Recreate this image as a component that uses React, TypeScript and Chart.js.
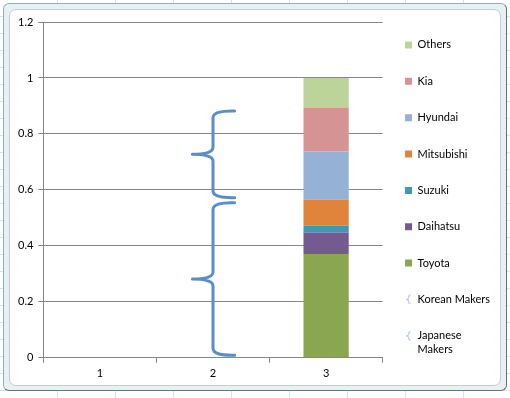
import React, { useEffect, useRef } from "react";
import { Chart, registerables } from "chart.js";
Chart.register(...registerables);

const categories = ["1", "2", "3"];
const seriesNames = ["Japanese Makers", "Korean Makers", "Toyota", "Daihatsu", "Suzuki", "Mitsubishi", "Hyundai", "Kia", "Others"];
const japaneseMakers = [null, 0.565, null];
const koreanMakers = [null, 0.328, null];
const toyota = [null, null, 0.371];
const daihatsu = [null, null, 0.077];
const suzuki = [null, null, 0.024];
const mitsubishi = [null, null, 0.093];
const hyundai = [null, null, 0.172];
const kia = [null, null, 0.156];
const others = [null, null, 0.107];
const yTicks = [0, 0.2, 0.4, 0.6, 0.8, 1, 1.2];

const seriesValues = [japaneseMakers, koreanMakers, toyota, daihatsu, suzuki, mitsubishi, hyundai, kia, others];
const seriesColors = ["rgba(0,0,0,0)", "rgba(0,0,0,0)", "#8BA650", "#735A90", "#3C9AB4", "#E0843C", "#95B1D6", "#D69393", "#BCD399"];
const braceSeries = [true, true, false, false, false, false, false, false, false];
const BRACE_COLOR = "#5B8DCB";

function drawBrace(ctx: CanvasRenderingContext2D, cx: number, left: number, right: number, top: number, bottom: number) {
  const mid = (top + bottom) / 2;
  const r = Math.min(7, (bottom - top) / 6);
  ctx.beginPath();
  ctx.moveTo(right, top);
  ctx.quadraticCurveTo(cx, top - 0.5, cx, top + r);
  ctx.lineTo(cx, mid - r);
  ctx.quadraticCurveTo(cx, mid, left, mid);
  ctx.quadraticCurveTo(cx, mid, cx, mid + r);
  ctx.lineTo(cx, bottom - r);
  ctx.quadraticCurveTo(cx, bottom + 0.5, right, bottom);
  ctx.stroke();
}

const bracePlugin = {
  id: "bracePlugin",
  afterDatasetsDraw(chart: any) {
    const ctx = chart.ctx;
    ctx.save();
    ctx.strokeStyle = BRACE_COLOR;
    ctx.lineWidth = 3;
    ctx.lineCap = "round";
    ctx.lineJoin = "round";
    chart.data.datasets.forEach((ds: any, di: number) => {
      if (!ds.brace) return;
      const meta = chart.getDatasetMeta(di);
      meta.data.forEach((el: any, i: number) => {
        if (ds.data[i] == null) return;
        const { x, y, base, width } = el.getProps(["x", "y", "base", "width"], true);
        const top = Math.min(y, base) + 3;
        const bottom = Math.max(y, base) - 2;
        drawBrace(ctx, x, x - width / 2 + 2, x + width / 2 - 1, top, bottom);
      });
    });
    ctx.restore();
  },
};

function makeBraceIcon() {
  const c = document.createElement("canvas");
  c.width = 5;
  c.height = 10;
  const g = c.getContext("2d")!;
  g.strokeStyle = "#9DB9E0";
  g.lineWidth = 1;
  drawBrace(g, 2.5, 0.5, 4.5, 1, 9);
  return c;
}

export default function App() {
  const ref = useRef<HTMLCanvasElement>(null);
  useEffect(() => {
    const braceIcon = makeBraceIcon();
    const font = { family: "Lato, 'Liberation Sans', sans-serif", size: 11 };
    const chart = new Chart(ref.current!, {
      type: "bar",
      data: {
        labels: categories,
        datasets: seriesNames.map((name, i) => ({
          label: name,
          data: seriesValues[i],
          backgroundColor: seriesColors[i],
          borderWidth: 0,
          brace: braceSeries[i],
          categoryPercentage: 0.8,
          barPercentage: 0.5,
        })) as any,
      },
      options: {
        animation: false,
        responsive: true,
        maintainAspectRatio: false,
        layout: { padding: { top: 17, bottom: 14, left: 13, right: 10 } },
        plugins: {
          tooltip: { enabled: false },
          title: {
            display: true,
            text: "",
            fullSize: false,
            font: { size: 1, lineHeight: 1 },
            padding: { top: 4, bottom: 0 },
          },
          legend: {
            position: "right",
            align: "start",
            reverse: true,
            labels: {
              usePointStyle: true,
              boxWidth: 7,
              boxHeight: 7,
              padding: 22.4,
              color: "#000",
              font: { ...font, lineHeight: 1.27 },
              generateLabels: (ch: any) => {
                const items = (Chart.defaults.plugins.legend.labels as any).generateLabels(ch);
                return items.map((it: any) => {
                  const ds = ch.data.datasets[it.datasetIndex];
                  const text = it.text === "Japanese Makers" ? ["Japanese", "Makers"] : [it.text];
                  return {
                    ...it,
                    text,
                    pointStyle: ds.brace ? braceIcon : "rect",
                    lineWidth: 0,
                    strokeStyle: "rgba(0,0,0,0)",
                  };
                });
              },
            },
          },
        },
        scales: {
          x: {
            stacked: true,
            grid: { offset: true, drawOnChartArea: false, drawTicks: true, tickLength: 5, color: "#868686" },
            border: { color: "#868686" },
            ticks: { color: "#000", font, padding: 4 },
          },
          y: {
            stacked: true,
            min: 0,
            max: 1.2,
            afterBuildTicks: (s: any) => {
              s.ticks = yTicks.map((v) => ({ value: v }));
            },
            grid: { color: "#868686", tickLength: 5, drawTicks: true },
            border: { color: "#868686" },
            ticks: { color: "#000", font, padding: 5, callback: (v: any) => String(v) },
          },
        },
      },
      plugins: [bracePlugin],
    });
    return () => chart.destroy();
  }, []);

  const gridBg =
    "repeating-linear-gradient(to right, transparent 0, transparent 57px, #d4e3ea 57px, #d4e3ea 58px), repeating-linear-gradient(to bottom, transparent 0, transparent 16px, #d4e3ea 16px, #d4e3ea 17px), #ffffff";

  return (
    <div style={{ position: "absolute", left: 0, top: 0, width: 510, height: 398, background: gridBg, overflow: "hidden" }}>
      <div
        style={{
          position: "absolute",
          left: 3,
          top: 3,
          width: 502,
          height: 386,
          border: "1px solid #8fb1bd",
          borderRightColor: "#707070",
          borderBottomColor: "#707070",
          borderRadius: 6,
          background: "#e6f1f4",
        }}
      />
      <div
        style={{
          position: "absolute",
          left: 9,
          top: 9,
          width: 490,
          height: 375,
          border: "1px solid #c4ccd2",
          borderRadius: 7,
          background: "#ffffff",
        }}
      />
      <div style={{ position: "absolute", left: 0, top: 0, width: 510, height: 398 }}>
        <canvas ref={ref} />
      </div>
    </div>
  );
}
